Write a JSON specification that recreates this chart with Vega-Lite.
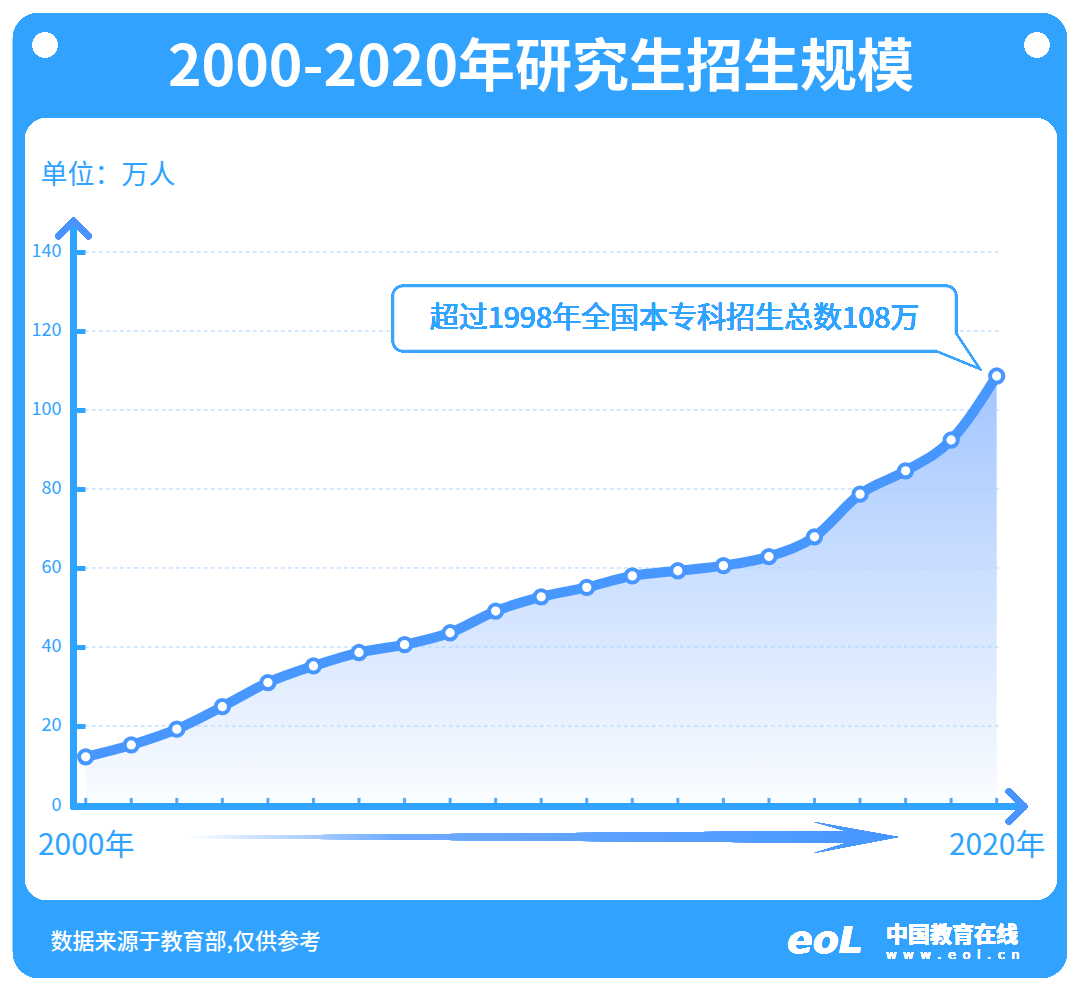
{
  "$schema": "https://vega.github.io/schema/vega-lite/v6.json",
  "width": 1032,
  "height": 782,
  "autosize": {"type": "none"},
  "padding": {"left": 25, "top": 118, "right": 23, "bottom": 89},
  "background": "white",
  "title": {
    "text": "2000-2020年研究生招生规模",
    "color": "white",
    "fontSize": 57,
    "fontWeight": "bold",
    "font": "Noto Sans CJK SC",
    "anchor": "middle",
    "frame": "group",
    "baseline": "middle",
    "offset": -113
  },
  "config": {
    "view": {"fill": null, "stroke": null},
    "font": "Noto Sans CJK SC"
  },
  "data": {
    "values": [
      {"year": 2000, "value": 12.2},
      {"year": 2001, "value": 15.2},
      {"year": 2002, "value": 19.2},
      {"year": 2003, "value": 24.9},
      {"year": 2004, "value": 31.0},
      {"year": 2005, "value": 35.2},
      {"year": 2006, "value": 38.6},
      {"year": 2007, "value": 40.6},
      {"year": 2008, "value": 43.6},
      {"year": 2009, "value": 49.1},
      {"year": 2010, "value": 52.7},
      {"year": 2011, "value": 55.1},
      {"year": 2012, "value": 58.0},
      {"year": 2013, "value": 59.3},
      {"year": 2014, "value": 60.6},
      {"year": 2015, "value": 62.9},
      {"year": 2016, "value": 67.9},
      {"year": 2017, "value": 78.7},
      {"year": 2018, "value": 84.6},
      {"year": 2019, "value": 92.4},
      {"year": 2020, "value": 108.6}
    ]
  },
  "layer": [
    {
      "mark": {"type": "rect", "fill": "#31a3ff", "strokeWidth": 0, "cornerRadius": 26},
      "encoding": {
        "x": {
          "datum": 1998.403,
          "type": "quantitative",
          "scale": {"domain": [1998.667, 2021.324], "nice": false, "zero": false},
          "axis": {
            "orient": "bottom",
            "offset": -94,
            "zindex": 1,
            "values": [2000, 2020],
            "labelExpr": "datum.value + '年'",
            "labelFontSize": 30,
            "labelColor": "#2ea3ff",
            "labelPadding": 24,
            "labelBaseline": "top",
            "labelFlush": false,
            "labelOverlap": false,
            "domain": false,
            "ticks": false,
            "grid": false,
            "title": "数据来源于教育部,仅供参考",
            "titleColor": "white",
            "titleFontSize": 22,
            "titleFontWeight": 500,
            "titleX": 25,
            "titleY": 135,
            "titleAlign": "left",
            "titleBaseline": "middle"
          }
        },
        "x2": {"datum": 2021.543},
        "y": {
          "datum": 200.51,
          "type": "quantitative",
          "scale": {"domain": [-24.05, 173.92], "nice": false, "zero": false},
          "axis": {
            "orient": "left",
            "offset": -60,
            "zindex": 1,
            "values": [0, 20, 40, 60, 80, 100, 120, 140],
            "tickSize": 11,
            "tickWidth": 5,
            "tickColor": "#2ea3ff",
            "labelFontSize": 18,
            "labelColor": "#2ea3ff",
            "labelPadding": 13,
            "domain": false,
            "grid": false,
            "title": "单位：万人",
            "titleAngle": 0,
            "titleX": -45,
            "titleY": 57,
            "titleAlign": "left",
            "titleBaseline": "middle",
            "titleFontSize": 27,
            "titleFontWeight": "normal",
            "titleColor": "#2ea3ff"
          }
        },
        "y2": {"datum": -43.8}
      }
    },
    {
      "mark": {"type": "rect", "fill": "white", "strokeWidth": 0, "cornerRadius": 22},
      "encoding": {
        "x": {"datum": 1998.667, "type": "quantitative"},
        "x2": {"datum": 2021.324},
        "y": {"datum": 173.92, "type": "quantitative"},
        "y2": {"datum": -24.05}
      }
    },
    {
      "mark": {
        "type": "area",
        "interpolate": "monotone",
        "fill": {
          "gradient": "linear",
          "x1": 0, "y1": 0, "x2": 0, "y2": 1,
          "stops": [
            {"offset": 0, "color": "#a2c5ff"},
            {"offset": 1, "color": "#fbfdff"}
          ]
        }
      },
      "encoding": {
        "x": {"field": "year", "type": "quantitative"},
        "y": {"field": "value", "type": "quantitative"},
        "y2": {"datum": 0}
      }
    },
    {
      "data": {"values": [{"g": 20}, {"g": 40}, {"g": 60}, {"g": 80}, {"g": 100}, {"g": 120}, {"g": 140}]},
      "mark": {"type": "rule", "stroke": "#a9d3ff", "strokeWidth": 1, "strokeDash": [4, 3]},
      "encoding": {
        "y": {"field": "g", "type": "quantitative"},
        "x": {"datum": 1999.98, "type": "quantitative"},
        "x2": {"datum": 2020.07}
      }
    },
    {
      "mark": {"type": "rule", "stroke": "#5aa9f7", "strokeWidth": 3},
      "encoding": {
        "x": {"field": "year", "type": "quantitative"},
        "y": {"datum": 1.8, "type": "quantitative"},
        "y2": {"datum": 0}
      }
    },
    {
      "mark": {"type": "rule", "stroke": "#2ea3ff", "strokeWidth": 5.5, "strokeCap": "round"},
      "encoding": {
        "x": {"datum": 1999.732, "type": "quantitative"},
        "y": {"datum": -0.6, "type": "quantitative"},
        "y2": {"datum": 147.85}
      }
    },
    {
      "mark": {"type": "rule", "stroke": "#2ea3ff", "strokeWidth": 6.5, "strokeCap": "round"},
      "encoding": {
        "y": {"datum": -0.38, "type": "quantitative"},
        "x": {"datum": 1999.732, "type": "quantitative"},
        "x2": {"datum": 2020.599}
      }
    },
    {
      "mark": {"type": "point", "shape": "M-1,1L0,0L1,1", "size": 900, "filled": false, "stroke": "#4a94ff", "strokeWidth": 6.5, "strokeCap": "round", "strokeJoin": "round", "opacity": 1},
      "encoding": {
        "x": {"datum": 1999.732, "type": "quantitative"},
        "y": {"datum": 147.85, "type": "quantitative"}
      }
    },
    {
      "mark": {"type": "point", "shape": "M-1,-1L0,0L-1,1", "size": 900, "filled": false, "stroke": "#4a94ff", "strokeWidth": 6.5, "strokeCap": "round", "strokeJoin": "round", "opacity": 1},
      "encoding": {
        "x": {"datum": 2020.599, "type": "quantitative"},
        "y": {"datum": -0.38, "type": "quantitative"}
      }
    },
    {
      "mark": {
        "type": "point",
        "shape": "M-1,-0.0028L0.8543,-0.0168L0.7647,-0.042L1,0L0.7647,0.0448L0.8543,0.0168L-1,0.0028Z",
        "size": 509796,
        "filled": true,
        "strokeWidth": 0,
        "opacity": 1,
        "fill": {
          "gradient": "linear",
          "x1": 0, "y1": 0, "x2": 1, "y2": 0,
          "stops": [
            {"offset": 0, "color": "#ffffff"},
            {"offset": 0.3, "color": "#6eaaff"},
            {"offset": 1, "color": "#4596ff"}
          ]
        }
      },
      "encoding": {
        "x": {"datum": 2010, "type": "quantitative"},
        "y": {"datum": -8.1, "type": "quantitative"}
      }
    },
    {
      "mark": {"type": "line", "interpolate": "monotone", "stroke": "#4797ff", "strokeWidth": 10, "strokeCap": "round", "strokeJoin": "round"},
      "encoding": {
        "x": {"field": "year", "type": "quantitative"},
        "y": {"field": "value", "type": "quantitative"}
      }
    },
    {
      "mark": {"type": "point", "shape": "circle", "filled": true, "fill": "white", "stroke": "#4797ff", "strokeWidth": 4, "size": 177, "opacity": 1},
      "encoding": {
        "x": {"field": "year", "type": "quantitative"},
        "y": {"field": "value", "type": "quantitative"}
      }
    },
    {
      "mark": {"type": "rect", "fill": "white", "stroke": "#3aa4ff", "strokeWidth": 2.5, "cornerRadius": 10},
      "encoding": {
        "x": {"datum": 2006.746, "type": "quantitative"},
        "x2": {"datum": 2019.106},
        "y": {"datum": 131.39, "type": "quantitative"},
        "y2": {"datum": 114.94}
      }
    },
    {
      "mark": {"type": "point", "shape": "M-0.636,-0.672L-0.261,-0.109L-0.948,-0.391Z", "size": 16384, "filled": true, "fill": "white", "strokeWidth": 0, "opacity": 1},
      "encoding": {
        "x": {"datum": 2020, "type": "quantitative"},
        "y": {"datum": 108.6, "type": "quantitative"}
      }
    },
    {
      "mark": {"type": "point", "shape": "M-0.636,-0.672L-0.261,-0.109L-0.948,-0.391", "size": 16384, "filled": false, "stroke": "#3aa4ff", "strokeWidth": 1.6, "opacity": 1},
      "encoding": {
        "x": {"datum": 2020, "type": "quantitative"},
        "y": {"datum": 108.6, "type": "quantitative"}
      }
    },
    {
      "mark": {"type": "text", "text": "超过1998年全国本专科招生总数108万", "fontSize": 29, "color": "#2ea3ff", "align": "center", "baseline": "middle"},
      "encoding": {
        "x": {"datum": 2012.926, "type": "quantitative"},
        "y": {"datum": 123.04, "type": "quantitative"}
      }
    },
    {
      "mark": {"type": "point", "shape": "circle", "filled": true, "fill": "white", "strokeWidth": 0, "size": 616, "opacity": 1},
      "encoding": {
        "x": {"datum": 1999.106, "type": "quantitative"},
        "y": {"datum": 192.41, "type": "quantitative"}
      }
    },
    {
      "mark": {"type": "point", "shape": "circle", "filled": true, "fill": "white", "strokeWidth": 0, "size": 616, "opacity": 1},
      "encoding": {
        "x": {"datum": 2020.884, "type": "quantitative"},
        "y": {"datum": 192.41, "type": "quantitative"}
      }
    },
    {
      "mark": {"type": "text", "text": "中国教育在线", "fontSize": 22, "fontWeight": "bold", "color": "white", "align": "left", "baseline": "middle"},
      "encoding": {
        "x": {"datum": 2017.569, "type": "quantitative"},
        "y": {"datum": -32.91, "type": "quantitative"}
      }
    },
    {
      "mark": {"type": "text", "text": "w\u2002w\u2002w\u2002.\u2002e\u2002o\u2002l\u2002.\u2002c\u2002n", "fontSize": 13, "color": "white", "align": "left", "baseline": "middle", "font": "DejaVu Sans"},
      "encoding": {
        "x": {"datum": 2017.569, "type": "quantitative"},
        "y": {"datum": -37.97, "type": "quantitative"}
      }
    },
    {
      "mark": {"type": "text", "text": "eoL", "fontSize": 38, "fontWeight": "bold", "fontStyle": "italic", "color": "white", "align": "center", "baseline": "middle", "font": "DejaVu Sans"},
      "encoding": {
        "x": {"datum": 2016.23, "type": "quantitative"},
        "y": {"datum": -34.68, "type": "quantitative"}
      }
    }
  ]
}
